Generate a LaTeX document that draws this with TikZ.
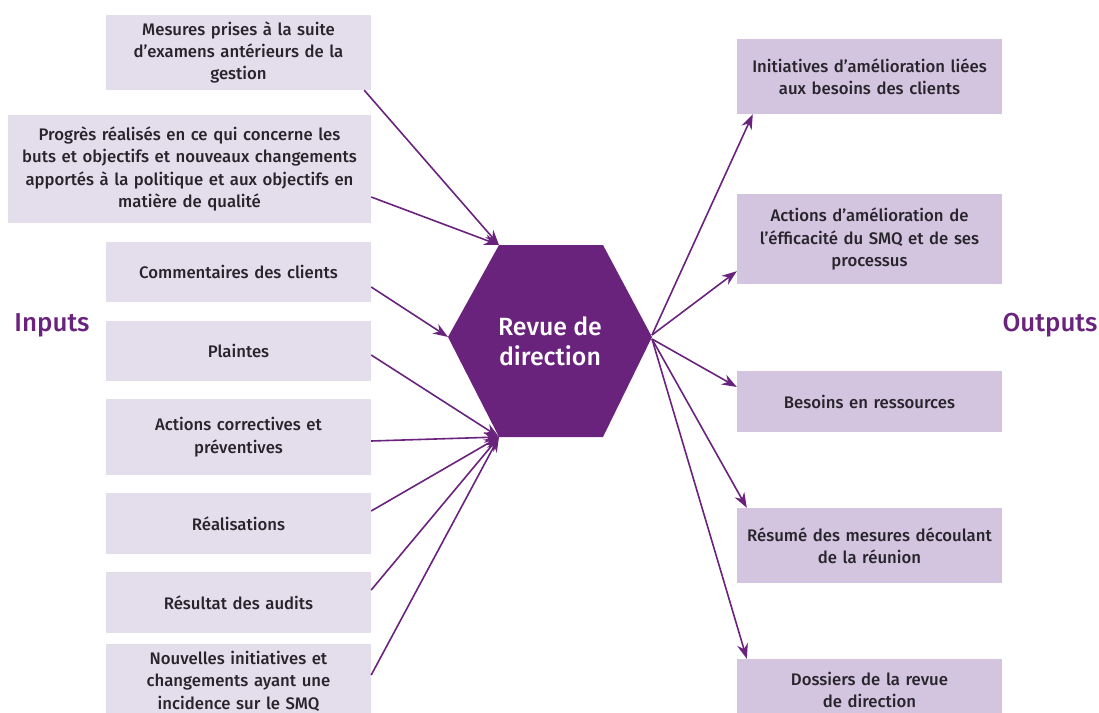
\documentclass[tikz,border=0pt]{standalone}
\usepackage{fontspec}
\setmainfont{Fira Sans}[BoldFont={Fira Sans Medium}]
\usetikzlibrary{arrows.meta}

\definecolor{dirpurple}{RGB}{106,35,125}
\definecolor{inbg}{RGB}{228,222,236}
\definecolor{outbg}{RGB}{211,196,223}
\definecolor{boxtext}{RGB}{40,36,44}

\begin{document}
\begin{tikzpicture}[x=1bp,y=-1bp,
  inbox/.style={fill=inbg,text=boxtext,align=center,inner sep=0pt,
    text width=265bp,font=\bfseries\fontsize{16.8}{22.5}\selectfont},
  outbox/.style={inbox,fill=outbg},
  flow/.style={dirpurple,line width=1.6bp,-{Stealth[length=15bp,width=11bp]}},
  side/.style={text=dirpurple,font=\bfseries\fontsize{26}{28}\selectfont}]
  \useasboundingbox (0,0) rectangle (1099,713);
  \clip (0,0) rectangle (1099,713);

  % inputs
  \node[inbox,minimum height=75bp] (in1) at (238.5,52.5)
    {Mesures prises à la suite\\d’examens antérieurs de la\\gestion};
  \node[inbox,text width=363bp,minimum height=108bp] (in2) at (189.5,169)
    {Progrès réalisés en ce qui concerne les\\buts et objectifs et nouveaux changements\\apportés à la politique et aux objectifs en\\matière de qualité};
  \node[inbox,minimum height=60bp] (in3) at (238.5,272) {Commentaires des clients};
  \node[inbox,minimum height=60bp] (in4) at (238.5,351) {Plaintes};
  \node[inbox,minimum height=76bp] (in5) at (238.5,437) {Actions correctives et\\préventives};
  \node[inbox,minimum height=61bp] (in6) at (238.5,523.5) {Réalisations};
  \node[inbox,minimum height=61bp] (in7) at (238.5,602.5) {Résultat des audits};
  \node[inbox,minimum height=74bp] (in8) at (238.5,681)
    {Nouvelles initiatives et\\changements ayant une\\incidence sur le SMQ};

  % outputs
  \node[outbox,minimum height=75bp] (out1) at (869.5,76.5)
    {Initiatives d’amélioration liées\\aux besoins des clients};
  \node[outbox,minimum height=90bp] (out2) at (869.5,239)
    {Actions d’amélioration de\\l’éfficacité du SMQ et de ses\\processus};
  \node[outbox,minimum height=61bp] (out3) at (869.5,401.5) {Besoins en ressources};
  \node[outbox,minimum height=75bp] (out4) at (869.5,545.5)
    {Résumé des mesures découlant\\de la réunion};
  \node[outbox,minimum height=62bp] (out5) at (869.5,690)
    {Dossiers de la revue\\de direction};

  % the hexagon
  \coordinate (hexTL) at (499,245);
  \coordinate (hexTR) at (603,245);
  \coordinate (hexR) at (652,337);
  \coordinate (hexBR) at (603,437);
  \coordinate (hexBL) at (499,437);
  \coordinate (hexL) at (448,337);
  \fill[dirpurple] (hexTL) -- (hexTR) -- (hexR) -- (hexBR) -- (hexBL) -- (hexL) -- cycle;
  \node[text=white,align=center,font=\bfseries\fontsize{25}{30}\selectfont] (hub) at (550,341)
    {Revue de\\direction};

  \node[side] (inputs) at (52,325) {Inputs};
  \node[side] (outputs) at (1050,325) {Outputs};

  % arrows in
  \draw[flow] ([xshift=-7bp]in1.south east) -- (hexTL);
  \draw[flow] ([yshift=-28bp]in2.east) -- (hexTL);
  \draw[flow] ([yshift=-15bp]in3.east) -- (hexL);
  \draw[flow] ([yshift=-4bp]in4.east) -- (hexBL);
  \draw[flow] ([yshift=-4bp]in5.east) -- (hexBL);
  \foreach \n/\d in {in6/12.5,in7/12.5,in8/6}
    \draw[flow] ([yshift=\d bp]\n.east) -- (hexBL);

  % arrows out
  \draw[flow] ([yshift=2bp]hexR) -- ([xshift=16bp]out1.south west);
  \draw[flow] ([yshift=2bp]hexR) -- ([yshift=13bp]out2.south west);
  \draw[flow] ([yshift=-2bp]hexR) -- ([yshift=14.5bp]out3.west);
  \draw[flow] ([yshift=-2bp]hexR) -- ([xshift=10bp]out4.north west);
  \draw[flow] ([yshift=-2bp]hexR) -- ([xshift=10bp]out5.north west);
\end{tikzpicture}
\end{document}
